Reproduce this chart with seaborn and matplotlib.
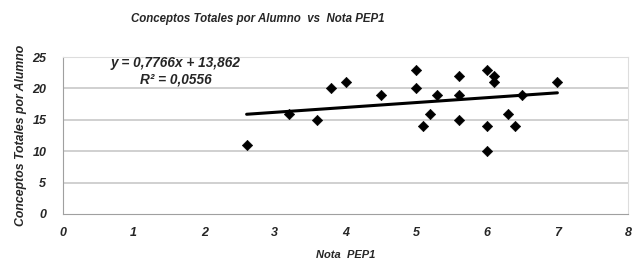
import numpy as np
import pandas as pd
import matplotlib
matplotlib.use("Agg")
import matplotlib.pyplot as plt
import seaborn as sns

# data
nota_pep1 = [2.6, 3.2, 3.6, 3.8, 4.0, 4.5, 5.0, 5.0, 5.1, 5.2, 5.3, 5.6,
             5.6, 5.6, 6.0, 6.0, 6.0, 6.1, 6.1, 6.3, 6.4, 6.5, 7.0]
conceptos = [11, 16, 15, 20, 21, 19, 23, 20, 14, 16, 19, 22,
             19, 15, 23, 14, 10, 22, 21, 16, 14, 19, 21]
slope = 0.7766
intercept = 13.862
r2 = 0.0556
x_ticks = [0, 1, 2, 3, 4, 5, 6, 7, 8]
y_ticks = [0, 5, 10, 15, 20, 25]

sns.set_style("white")
plt.rcParams['font.family'] = ['Liberation Sans', 'DejaVu Sans']

df = pd.DataFrame({'nota': nota_pep1, 'conceptos': conceptos})
trend = pd.DataFrame({'nota': [min(nota_pep1), max(nota_pep1)]})
trend['conceptos'] = slope * trend['nota'] + intercept

fig = plt.figure(figsize=(6.33, 2.59), dpi=100)
ax = fig.add_axes([63 / 633, 45 / 259, 565 / 633, 157 / 259])

# grid
for y in y_ticks[1:]:
    ax.axhline(y, color='#c8c8c8', lw=1.2, zorder=0)

sns.lineplot(data=trend, x='nota', y='conceptos', ax=ax, color='black', lw=2.2, zorder=2)
sns.scatterplot(data=df, x='nota', y='conceptos', ax=ax, marker='D', s=28,
                color='black', edgecolor='black', zorder=3)

ax.set_xlim(0, 8)
ax.set_ylim(0, 25)
ax.set_xticks(x_ticks)
ax.set_yticks(y_ticks)

font = dict(fontweight='bold', fontstyle='italic', fontsize=8)
tick_font = dict(fontweight='bold', fontstyle='italic', fontsize=9)
ax.set_xticklabels([str(t) for t in x_ticks], **tick_font)
ax.set_yticklabels([str(t) for t in y_ticks], **tick_font)
ax.tick_params(axis='x', direction='inout', length=4, color='#a0a0a0', pad=7)
ax.tick_params(axis='y', direction='out', length=5, color='#a0a0a0', pad=7)

for side in ['left', 'bottom']:
    ax.spines[side].set_color('#a0a0a0')
for side in ['top', 'right']:
    ax.spines[side].set_color('#dddddd')

ax.set_xlabel('Nota  PEP1', labelpad=8, **font)
ax.set_ylabel('Conceptos Totales por Alumno', labelpad=4,
              fontweight='bold', fontstyle='italic', fontsize=8.8)

eq_font = dict(fontweight='bold', fontstyle='italic', fontsize=9.8)
ax.text(1.6, 24.1, 'y = ' + f'{slope:.4f}'.replace('.', ',') + 'x + '
        + f'{intercept:.3f}'.replace('.', ','), ha='center', va='center', **eq_font)
ax.text(1.6, 21.4, 'R\u00b2 = ' + f'{r2:.4f}'.replace('.', ','), ha='center', va='center', **eq_font)

fig.text(258 / 633, 1 - 19 / 259, 'Conceptos Totales por Alumno  vs  Nota PEP1',
         ha='center', va='center', fontweight='bold', fontstyle='italic', fontsize=8.3)

fig.savefig('out.png', dpi=100)
